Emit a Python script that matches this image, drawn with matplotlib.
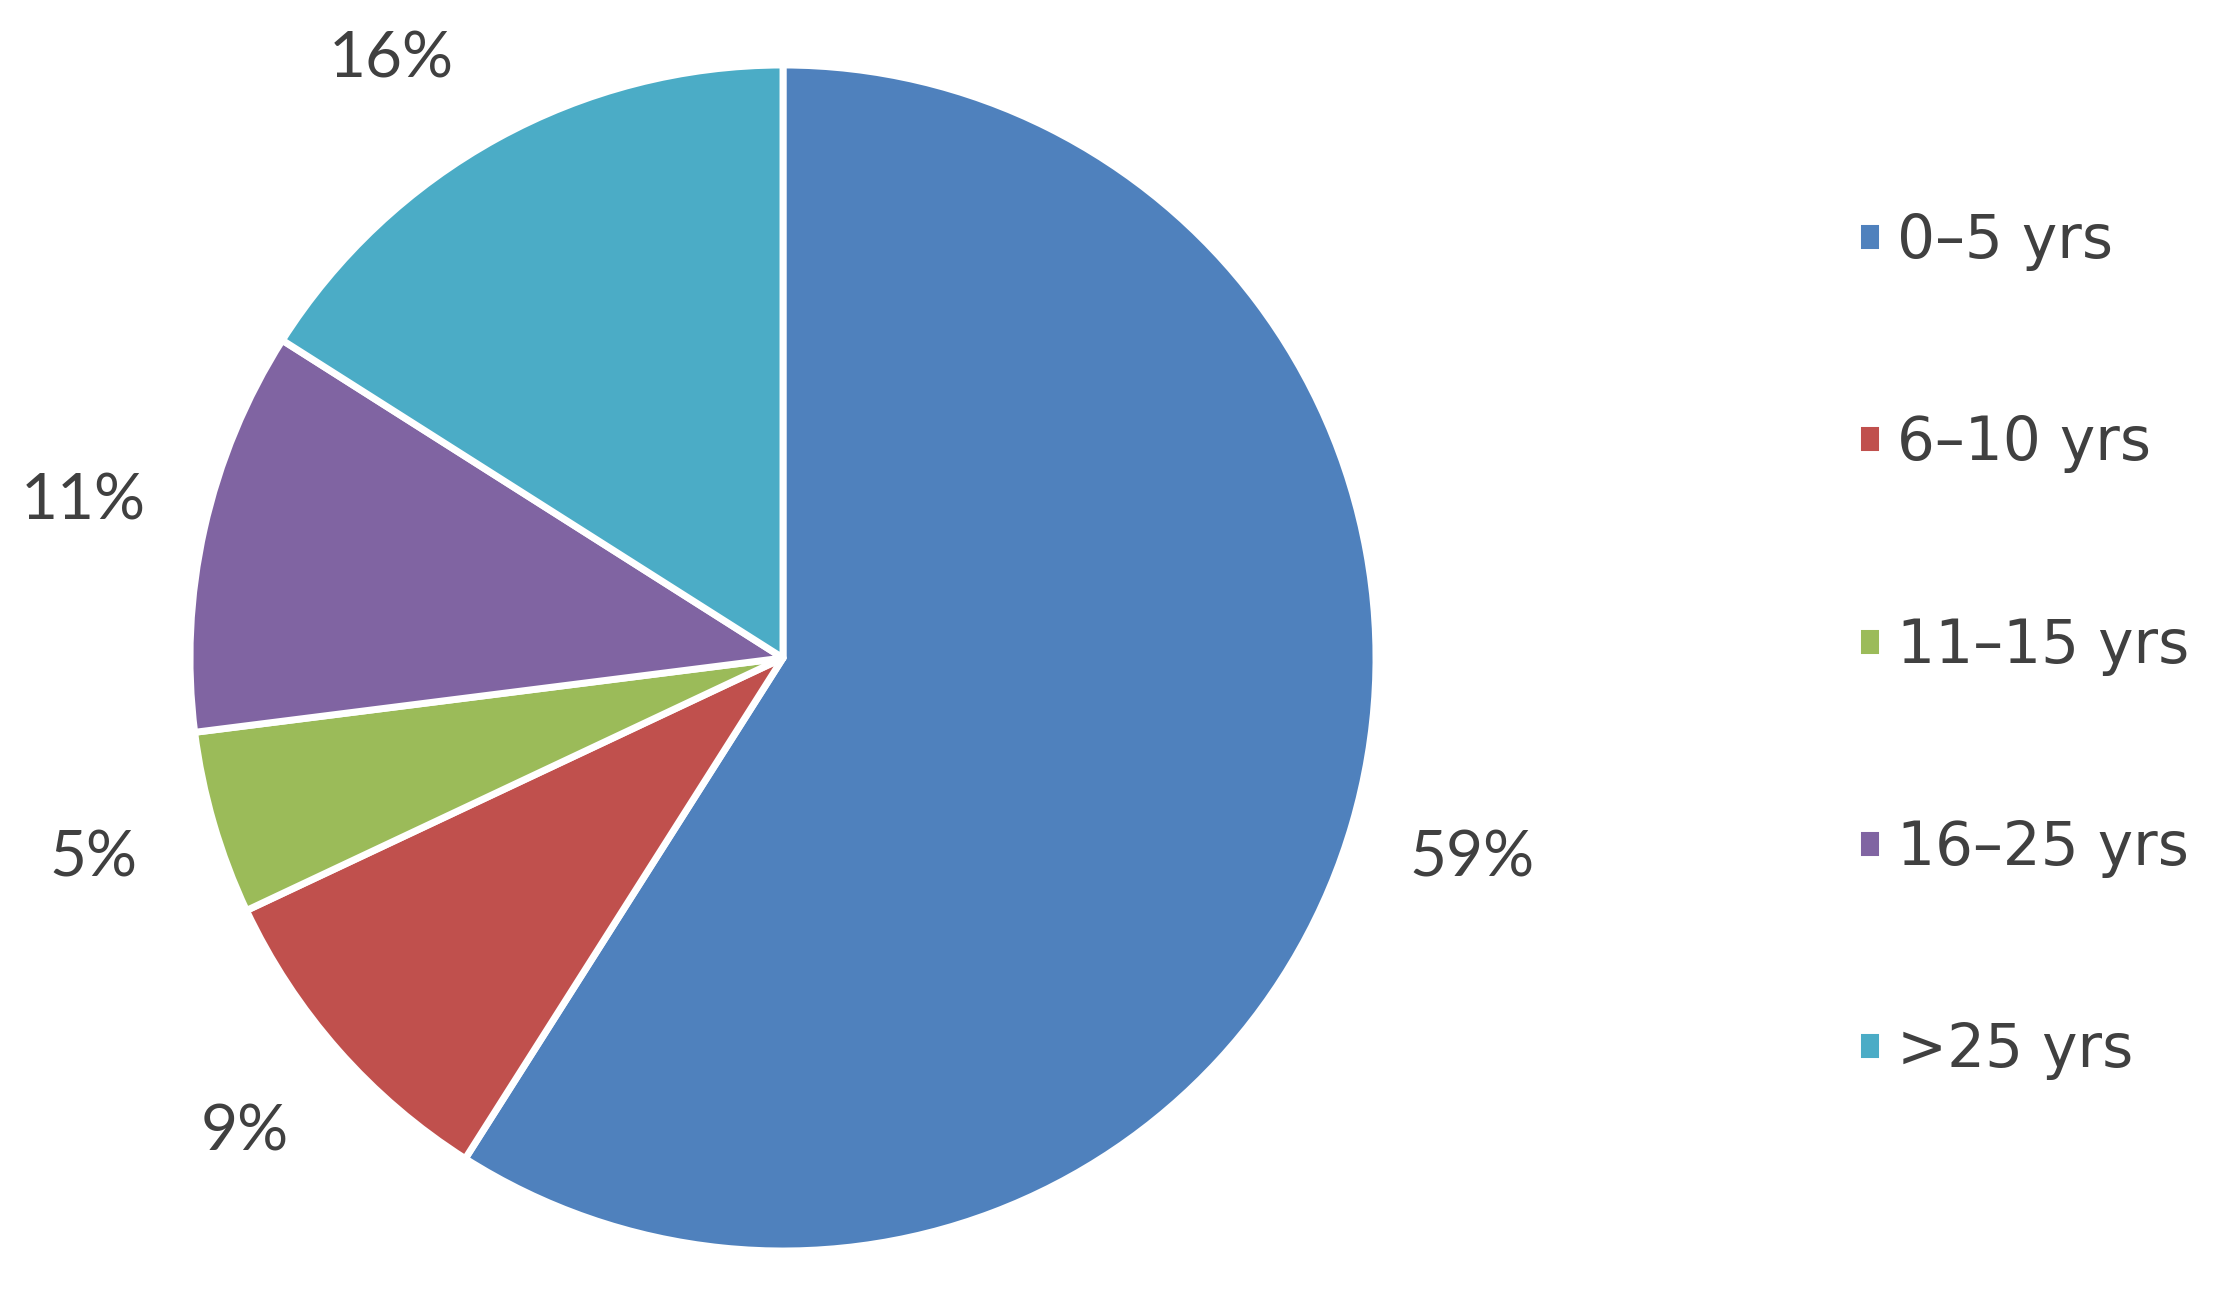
import matplotlib.pyplot as plt

labels = ["0\u20135 yrs", "6\u201310 yrs", "11\u201315 yrs", "16\u201325 yrs", ">25 yrs"]
shares = [59, 9, 5, 11, 16]
colors = ["#4F81BD", "#C0504D", "#9BBB59", "#8064A2", "#4BACC6"]

W, H = 2218, 1289
fig = plt.figure(figsize=(W / 100, H / 100), dpi=100)

# pie centre and radius in pixels
cx, cy, r = 783, 658, 593
lim = 1.35
side = 2 * lim * r
ax = fig.add_axes([(cx - side / 2) / W, (H - cy - side / 2) / H, side / W, side / H])

wedges, texts, autotexts = ax.pie(
    shares, colors=colors, startangle=90, counterclock=False,
    autopct="%.0f%%", pctdistance=1.21,
    wedgeprops=dict(edgecolor="white", linewidth=5, joinstyle="round"),
    textprops=dict(fontsize=46, color="#404040", family="Lato"),
)
# excel's best-fit moved the last label a bit toward the top
autotexts[-1].set_position((-0.66, 1.01))

ax.set_xlim(-lim, lim)
ax.set_ylim(-lim, lim)
ax.set_aspect("equal")
ax.axis("off")

fig.legend(wedges, labels, loc="center left",
           bbox_to_anchor=(1857 / W, 1 - 646 / H),
           frameon=False, borderpad=0, borderaxespad=0,
           handlelength=0.42, handleheight=0.42, handletextpad=0.25,
           labelspacing=2.4, prop=dict(size=43, family="DejaVu Sans"),
           labelcolor="#404040")

fig.savefig("out.png", dpi=100, facecolor="white")
